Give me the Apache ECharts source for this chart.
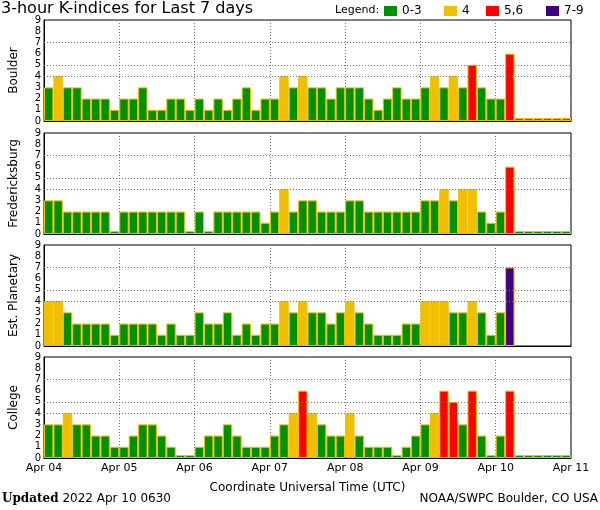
<!DOCTYPE html>
<html>
<head>
<meta charset="utf-8">
<script src="https://cdn.jsdelivr.net/npm/echarts@6.0.0/dist/echarts.min.js"></script>
<style>
html, body { margin: 0; padding: 0; background: #fff; }
#chart { width: 600px; height: 510px; }
</style>
</head>
<body>
<div id="chart"></div>
<script>
// 3-hour K-indices, 8 values per day, Apr 04 00UT .. Apr 10 21UT
const boulder = [3,4,3,3,2,2,2,1,2,2, 3,1,1,2,2,1,2,1,2,1, 2,3,1,2,2,4,3,4,3,3,
    2,3,3,3,2,1,2,3,2,2, 3,4,3,4,3,5,3,2,2,6, 0,0,0,0,0,0]
const fredericksburg = [3,3,2,2,2,2,2,0,2,2, 2,2,2,2,2,0,2,0,2,2, 2,2,2,1,2,4,2,3,3,2,
    2,2,3,3,2,2,2,2,2,2, 3,3,4,3,4,4,2,1,2,6, 0,0,0,0,0,0]
const planetary = [4,4,3,2,2,2,2,1,2,2, 2,2,1,2,1,1,3,2,2,3, 1,2,1,2,2,4,3,4,3,3,
    2,3,4,3,2,1,1,1,2,2, 4,4,4,3,3,4,3,1,3,7, null,null,null,null,null,null]
const college = [3,3,4,3,3,2,2,1,1,2, 3,3,2,1,0,0,1,2,2,3, 2,1,1,1,2,3,4,6,4,3,
    2,2,4,2,1,1,1,0,1,2, 3,4,6,5,3,6,2,0,2,6, 0,0,0,0,0,0]

const stations = ['Boulder', 'Fredericksburg', 'Est. Planetary', 'College']
const stationData = [boulder, fredericksburg, planetary, college]
const dayLabels = ['Apr 04', 'Apr 05', 'Apr 06', 'Apr 07', 'Apr 08', 'Apr 09', 'Apr 10', 'Apr 11']
const legendNames = ['0-3', '4', '5,6', '7-9']
const legendColors = ['#009000', '#f0c000', '#ff0000', '#400080']
const guideLevels = [4, 5, 7]

const slots = stationData[0].map((v, i) => 'p' + i)
const tops = [20, 133, 245, 357]
const legendLeft = [384, 444, 486, 546]

function kColor(v) {
    if (v >= 7) return legendColors[3]
    if (v >= 5) return legendColors[2]
    if (v === 4) return legendColors[1]
    return legendColors[0]
}

const chart = echarts.init(document.getElementById('chart'), null, { renderer: 'canvas' })

const grid = [], xAxis = [], yAxis = [], series = []
stations.forEach((name, i) => {
    grid.push({
        left: 36, right: 29, top: tops[i], height: 101,
        show: true, borderColor: '#000', borderWidth: 1,
    })
    xAxis.push({
        type: 'category', gridIndex: i, data: slots,
        z: 10,
        axisLine: { lineStyle: { color: '#000', width: 1 } },
        axisTick: { inside: true, length: 3, alignWithLabel: true, interval: 0,
            lineStyle: { color: '#f0c000', width: 1 } },
        axisLabel: { show: false },
        splitLine: { show: false },
    })
    xAxis.push({
        type: 'value', gridIndex: i, min: 0, max: 56, interval: 8,
        position: 'bottom',
        axisLine: { show: false },
        axisTick: { show: false },
        splitLine: { show: true, lineStyle: { color: '#777', type: [1, 2], width: 1 } },
        axisLabel: {
            show: i === 3, color: '#000', fontSize: 11, margin: 5,
            formatter: v => dayLabels[v / 8],
        },
        name: i === 3 ? 'Coordinate Universal Time (UTC)' : '',
        nameLocation: 'middle', nameGap: 24,
        nameTextStyle: { color: '#000', fontSize: 12 },
    })
    yAxis.push({
        type: 'value', gridIndex: i, min: 0, max: 9, interval: 1,
        axisLine: { show: true, lineStyle: { color: '#000' } },
        axisTick: { show: false },
        splitLine: { show: false },
        axisLabel: { color: '#000', fontSize: 10, margin: 3 },
        name: name, nameLocation: 'middle', nameGap: 24, nameRotate: 90,
        nameTextStyle: { color: '#000', fontSize: 12 },
    })
    series.push({
        type: 'bar', name: name,
        xAxisIndex: i * 2, yAxisIndex: i,
        data: stationData[i],
        barCategoryGap: '0%',
        barMinHeight: 3,
        itemStyle: {
            color: p => kColor(p.value),
            borderColor: '#f0c000', borderWidth: 1,
        },
        markLine: {
            silent: true, symbol: 'none',
            label: { show: false },
            lineStyle: { color: '#777', type: [1, 2], width: 1 },
            data: guideLevels.map(l => ({ yAxis: l })),
        },
    })
})

// empty series only so the legend has its colour keys
legendNames.forEach((n, k) => {
    series.push({
        type: 'scatter', name: n, data: [],
        xAxisIndex: 0, yAxisIndex: 0,
        itemStyle: { color: legendColors[k], opacity: 1 },
    })
})

chart.setOption({
    animation: false,
    textStyle: { fontFamily: 'DejaVu Sans' },
    title: [
        {
            text: '3-hour K-indices for Last 7 days', left: 1, top: 1, padding: 0,
            textStyle: { fontSize: 16, fontWeight: 'normal', color: '#000' },
        },
        {
            text: 'Legend:', left: 335, top: 5, padding: 0,
            textStyle: { fontSize: 11, fontWeight: 'normal', color: '#000' },
        },
        {
            text: '{b|Updated} 2022 Apr 10 0630', left: 2, top: 493, padding: 0,
            textStyle: {
                fontSize: 12, fontWeight: 'normal', color: '#000',
                rich: { b: { fontFamily: 'DejaVu Serif', fontWeight: 'bold', fontSize: 12 } },
            },
        },
        {
            text: 'NOAA/SWPC Boulder, CO USA', right: 2, top: 493, padding: 0,
            textStyle: { fontSize: 12, fontWeight: 'normal', color: '#000' },
        },
    ],
    legend: legendNames.map((n, k) => ({
        data: [n], left: legendLeft[k], top: 5, padding: 0,
        icon: 'rect', itemWidth: 13, itemHeight: 10,
        selectedMode: false,
        itemStyle: { opacity: 1, borderWidth: 0 },
        textStyle: { fontSize: 12, color: '#000' },
    })),
    grid: grid,
    xAxis: xAxis,
    yAxis: yAxis,
    series: series,
})
</script>
</body>
</html>
